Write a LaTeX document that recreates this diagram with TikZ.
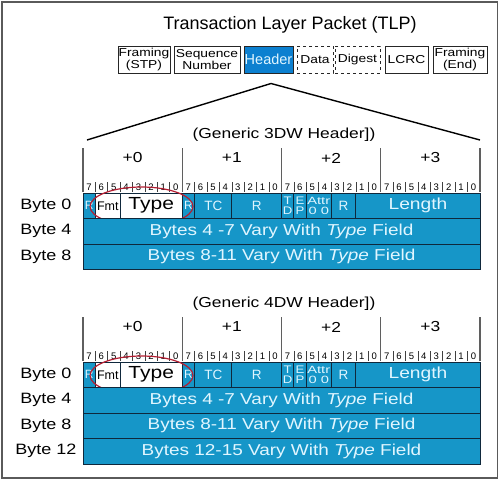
\documentclass[tikz,border=0pt]{standalone}
\usepackage{fontspec}
\setmainfont{Liberation Sans}
\newfontfamily\wf[FakeStretch=1.2]{Liberation Sans}
\newfontfamily\wff[FakeStretch=1.4]{Liberation Sans}
\usetikzlibrary{calc,shapes.geometric}
\definecolor{rowblue}{RGB}{22,150,200}
\definecolor{hdrblue}{RGB}{12,128,208}
\definecolor{edgec}{RGB}{15,40,60}
\definecolor{txtl}{RGB}{225,246,255}
\definecolor{tickc}{RGB}{95,95,95}
\definecolor{ovalred}{RGB}{180,30,50}
\definecolor{framec}{RGB}{90,90,90}
\tikzset{
  pktbox/.style={draw=black!85, line width=1pt, fill=white, inner sep=0pt, minimum height=27pt, align=center, font=\wf\fontsize{11.5}{12}\selectfont},
  dashbox/.style={pktbox, dashed},
  hdrbox/.style={pktbox, fill=hdrblue, text=txtl, font=\fontsize{14.5}{15}\selectfont},
  gtitle/.style={font=\wf\fontsize{14.5}{15}\selectfont, inner sep=0pt},
  bytehd/.style={font=\wf\fontsize{14.5}{15}\selectfont, inner sep=0pt},
  bitnum/.style={font=\fontsize{9.5}{10}\selectfont, text=black, inner sep=0pt},
  longtick/.style={draw=tickc, line width=1.4pt},
  smalltick/.style={draw=black!75, line width=0.7pt},
  bfield/.style={draw=edgec, line width=1pt, fill=rowblue, text=txtl, inner sep=0pt, minimum height=25.5pt, align=center},
  wfield/.style={bfield, fill=white, text=black},
  rowbox/.style={bfield, font=\wf\fontsize{15.8}{16}\selectfont},
  bytelbl/.style={font=\wf\fontsize{15}{16}\selectfont, inner sep=0pt},
  oval/.style={ellipse, draw=ovalred, line width=1.2pt, minimum width=103pt, minimum height=39pt, inner sep=0pt},
  fan/.style={draw=black, line width=1.4pt},
}
% #1 name, #2 left bit, #3 right bit, #4 y centre, #5 style, #6 text
\newcommand\fld[6]{%
  \node[#5, minimum width={(#3-#2)*12.40625}] (#1) at ({83+(#2+#3)*6.203125},#4) {#6};%
}
\newcommand\hdrtop[2]{%
  \node[gtitle] (gt#1) at (284,135) {(Generic #2 Header])};
  \foreach \i in {0,...,4} \draw[longtick] ({83+99.25*\i},148) -- ({83+99.25*\i},192);
  \foreach \i in {0,...,3} \node[bytehd] (off#1\i) at ({132.625+99.25*\i},158) {+\i};
  \foreach \b in {0,...,31}{
    \pgfmathtruncatemacro\dgt{7-mod(\b,8)}
    \node[bitnum] (bit#1\b) at ({83+12.40625*(\b+0.5)-0.3},187.5) {\dgt};
  }
  \foreach \b in {1,...,31}{
    \pgfmathtruncatemacro\mm{mod(\b,8)}
    \ifnum\mm>0 \draw[smalltick] ({83+12.40625*\b},182) -- ({83+12.40625*\b},192);\fi
  }
  \fld{ra#1}{0}{1}{205.75}{bfield, font=\fontsize{12}{12}\selectfont}{R}
  \fld{fmt#1}{1}{3}{205.75}{wfield, font=\fontsize{12.5}{12}\selectfont}{Fmt}
  \fld{type#1}{3}{8}{205.75}{wfield, font=\wf\fontsize{17.5}{17}\selectfont}{Type}
  \fld{rb#1}{8}{9}{205.75}{bfield, font=\fontsize{12}{12}\selectfont}{R}
  \fld{tc#1}{9}{12}{205.75}{bfield, font=\fontsize{13.5}{14}\selectfont}{TC}
  \fld{rc#1}{12}{16}{205.75}{bfield, font=\fontsize{13.5}{14}\selectfont}{R}
  \fld{td#1}{16}{17}{205.75}{bfield, font=\wf\fontsize{11}{10.5}\selectfont}{T\\D}
  \fld{ep#1}{17}{18}{205.75}{bfield, font=\wf\fontsize{11}{10.5}\selectfont}{E\\P}
  \fld{attr#1}{18}{20}{205.75}{bfield, font=\wff\fontsize{10.5}{10.5}\selectfont}{Attr\\0 0}
  \fld{rd#1}{20}{22}{205.75}{bfield, font=\fontsize{13.5}{14}\selectfont}{R}
  \fld{len#1}{22}{32}{205.75}{bfield, font=\wf\fontsize{16}{16}\selectfont}{Length}
  \node[bytelbl] (bl#1a) at (46,205.75) {Byte 0};
  \node[oval] (ov#1) at (141.5,206.5) {};
}
\begin{document}
\begin{tikzpicture}[x=1pt,y=-1pt]
\useasboundingbox (0,0) rectangle (500,480);
\draw[framec, line width=1.6pt] (2,2) rectangle (497.5,478);
\node[font=\fontsize{18}{18}\selectfont, inner sep=0pt] (ttl) at (290,25) {Transaction Layer Packet (TLP)};
\node[pktbox, minimum width=52pt] (fstp) at (144,59.5) {Framing\\(STP)};
\node[pktbox, minimum width=66pt] (seq) at (207,59.5) {Sequence\\Number};
\node[hdrbox, minimum width=49pt] (hdr) at (268.5,59.5) {Header};
\node[dashbox, minimum width=36pt] (data) at (315,59.5) {Data};
\node[dashbox, minimum width=45pt] (dig) at (357.5,59.5) {Digest};
\node[pktbox, minimum width=43pt] (lcrc) at (406.5,59.5) {LCRC};
\node[pktbox, minimum width=54pt] (fend) at (460,59.5) {Framing\\(End)};
\coordinate (apex) at ($(hdr.south)+(2.5,10)$);
\coordinate (lend) at (87,140);
\coordinate (rend) at (480,140);
\draw[fan] (lend) -- (apex) -- (rend);
% 3DW header
\hdrtop{t}{3DW}
\fld{r4t}{0}{32}{231.25}{rowbox}{Bytes 4 -7 Vary With \textit{Type} Field}
\fld{r8t}{0}{32}{256.75}{rowbox}{Bytes 8-11 Vary With \textit{Type} Field}
\node[bytelbl] (blt4) at (46,231.25) {Byte 4};
\node[bytelbl] (blt8) at (46,256.75) {Byte 8};
% 4DW header
\begin{scope}[shift={(0,169)}]
\hdrtop{f}{4DW}
\fld{r4f}{0}{32}{231.25}{rowbox}{Bytes 4 -7 Vary With \textit{Type} Field}
\fld{r8f}{0}{32}{256.75}{rowbox}{Bytes 8-11 Vary With \textit{Type} Field}
\fld{r12f}{0}{32}{282.25}{rowbox}{Bytes 12-15 Vary With \textit{Type} Field}
\node[bytelbl] (blf4) at (46,231.25) {Byte 4};
\node[bytelbl] (blf8) at (46,256.75) {Byte 8};
\node[bytelbl] (blf12) at (46,282.25) {Byte 12};
\end{scope}
\end{tikzpicture}
\end{document}
